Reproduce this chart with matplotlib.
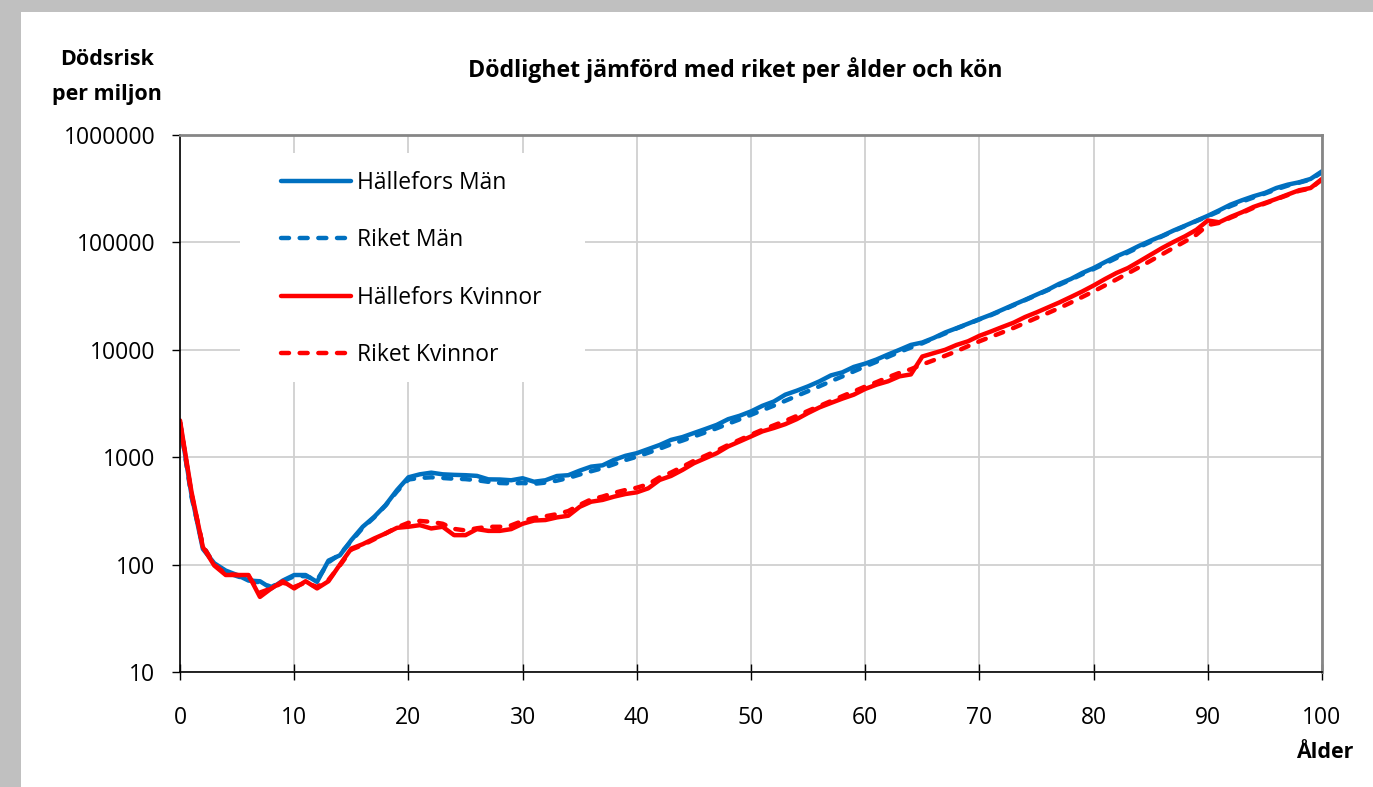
import matplotlib.pyplot as plt
from matplotlib.patches import Rectangle
from matplotlib.ticker import NullLocator

# age 0..100, deaths per million
ages = list(range(0, 101))

hallefors_man = [
    2100, 450, 140, 103, 88, 80, 71, 70, 60, 71,
    80, 80, 69, 109, 122, 169, 225, 278, 358, 494,
    650, 693, 718, 693, 685, 680, 670, 622, 620, 610,
    637, 591, 610, 668, 680, 750, 817, 840, 944, 1030,
    1090, 1190, 1300, 1450, 1540, 1680, 1830, 2000, 2260, 2430,
    2670, 3010, 3300, 3820, 4160, 4570, 5090, 5780, 6170, 6930,
    7440, 8130, 9040, 10000, 11100, 11700, 12900, 14500, 15900, 17500,
    19300, 21200, 23600, 26300, 29200, 32600, 36300, 41200, 45600, 51900,
    57700, 65600, 74100, 82400, 93100, 104000, 115000, 129000, 143000, 159000,
    177000, 199000, 225000, 247000, 269000, 289000, 321000, 345000, 363000, 390000,
    459000]

riket_man = [
    2100, 430, 150, 100, 85, 78, 72, 68, 62, 70,
    78, 78, 72, 105, 125, 165, 220, 275, 355, 480,
    620, 640, 650, 640, 630, 625, 610, 590, 575, 570,
    575, 565, 580, 605, 640, 690, 740, 790, 860, 940,
    1010, 1100, 1200, 1320, 1430, 1560, 1700, 1860, 2050, 2250,
    2480, 2740, 3020, 3350, 3720, 4120, 4580, 5100, 5650, 6300,
    7000, 7750, 8600, 9550, 10500, 11500, 12800, 14200, 15800, 17400,
    19200, 21000, 23300, 26000, 29000, 32300, 36000, 40300, 45000, 50500,
    56500, 63500, 71500, 80500, 90500, 101500, 114000, 127500, 142000, 158000,
    175000, 195000, 218000, 240000, 262000, 285000, 312000, 338000, 360000, 385000,
    450000]

hallefors_kvinnor = [
    2200, 480, 146, 98, 80, 80, 80, 50, 60, 70,
    60, 70, 60, 70, 100, 141, 155, 175, 195, 220,
    225, 233, 217, 225, 188, 188, 214, 206, 206, 214,
    240, 257, 260, 275, 285, 345, 385, 400, 429, 454,
    471, 513, 614, 669, 761, 879, 978, 1090, 1260, 1400,
    1560, 1740, 1870, 2030, 2260, 2580, 2910, 3200, 3510, 3820,
    4320, 4740, 5090, 5660, 5900, 8660, 9310, 10000, 11100, 12000,
    13500, 14800, 16300, 17900, 20200, 22300, 24800, 27600, 31000, 34900,
    39700, 45600, 51900, 57700, 66500, 76800, 88700, 101000, 114000, 131000,
    160000, 154000, 173000, 191000, 214000, 233000, 254000, 279000, 306000, 321000,
    390000]

riket_kvinnor = [
    2100, 460, 150, 100, 82, 80, 78, 55, 60, 68,
    62, 68, 62, 72, 98, 138, 152, 172, 195, 222,
    245, 255, 250, 240, 215, 208, 218, 225, 225, 232,
    255, 272, 282, 295, 315, 360, 405, 430, 465, 495,
    520, 560, 650, 720, 815, 925, 1030, 1150, 1300, 1450,
    1620, 1800, 1980, 2180, 2420, 2700, 3000, 3330, 3700, 4100,
    4550, 5000, 5550, 6100, 6600, 7300, 8000, 8800, 9700, 10800,
    12000, 13200, 14500, 16000, 17800, 19800, 22000, 24500, 27500, 31000,
    35000, 39800, 45200, 51500, 58800, 67500, 77500, 89000, 102000, 118000,
    145000, 152000, 170000, 188000, 210000, 230000, 252000, 276000, 302000, 318000,
    385000]

y_ticks = [10, 100, 1000, 10000, 100000, 1000000]
y_tick_labels = ['10', '100', '1000', '10000', '100000', '1000000']
x_ticks = list(range(0, 101, 10))

BLUE = '#0070c0'
RED = '#ff0000'
LW = 3.2
DASH = (0, (1.8, 2.4))

plt.rcParams['font.family'] = ['Open Sans', 'DejaVu Sans']

fig = plt.figure(figsize=(13.73, 7.87), dpi=100, facecolor='#c0c0c0')
# white chart area inside the gray border
bg = Rectangle((21 / 1373, 0), 1, 1 - 12 / 787, transform=fig.transFigure,
               facecolor='white', edgecolor='none', zorder=-10)
fig.add_artist(bg)

ax = fig.add_axes([180 / 1373, 1 - 672 / 787, 1142 / 1373, 537 / 787])
ax.set_facecolor('white')

ax.plot(ages, hallefors_man, color=BLUE, lw=LW, solid_joinstyle='round',
        solid_capstyle='round', label='Hällefors Män', zorder=2)
ax.plot(ages, riket_man, color=BLUE, lw=LW, ls=DASH, dash_capstyle='round',
        dash_joinstyle='round', label='Riket Män', zorder=2)
ax.plot(ages, hallefors_kvinnor, color=RED, lw=LW, solid_joinstyle='round',
        solid_capstyle='round', label='Hällefors Kvinnor', zorder=2)
ax.plot(ages, riket_kvinnor, color=RED, lw=LW, ls=DASH, dash_capstyle='round',
        dash_joinstyle='round', label='Riket Kvinnor', zorder=2)

ax.set_yscale('log')
ax.set_ylim(10, 1000000)
ax.set_xlim(0, 100)
ax.set_yticks(y_ticks)
ax.set_yticklabels(y_tick_labels)
ax.yaxis.set_minor_locator(NullLocator())
ax.set_xticks(x_ticks)

ax.set_axisbelow(True)
ax.grid(True, color='#d0d0d0', lw=1.3)

# legend sits on a white box that hides the grid
ax.add_patch(Rectangle((0.0525, 0.540), 0.302, 0.4265, transform=ax.transAxes,
                       facecolor='white', edgecolor='none', zorder=1))
ax.legend(loc='upper left', bbox_to_anchor=(0.0884, 0.933), frameon=False,
          fontsize=16.5, handlelength=3.05, handletextpad=0.26, labelspacing=1.46,
          borderpad=0, borderaxespad=0)

for side in ['left', 'bottom']:
    ax.spines[side].set_color('#000000')
    ax.spines[side].set_linewidth(1.2)
for side in ['top', 'right']:
    ax.spines[side].set_color('#868686')
    ax.spines[side].set_linewidth(2)

ax.tick_params(axis='x', direction='inout', length=11.5, width=1, pad=19, labelsize=16.5)
ax.tick_params(axis='y', direction='out', length=5.8, width=1, pad=12, labelsize=16.5)

fig.text(735 / 1373, 1 - 70 / 787, 'Dödlighet jämförd med riket per ålder och kön',
         ha='center', va='center', fontsize=16.7, fontweight='bold')
fig.text(107 / 1373, 1 - 77 / 787, 'Dödsrisk\nper miljon', ha='center', va='center',
         fontsize=15.5, fontweight='bold', linespacing=1.85)
fig.text(1325 / 1373, 1 - 752 / 787, 'Ålder', ha='center', va='center',
         fontsize=15.5, fontweight='bold')

fig.savefig('out.png', dpi=100, facecolor=fig.get_facecolor())
